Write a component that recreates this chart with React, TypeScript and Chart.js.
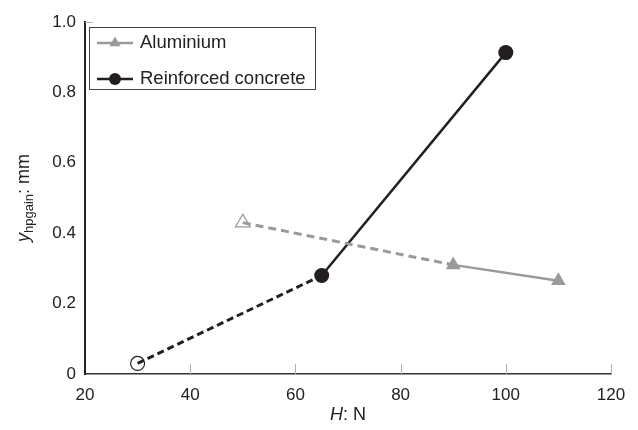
import { useEffect, useRef } from "react";
import { Chart, registerables } from "chart.js";
Chart.register(...registerables);

const alH = [50, 90, 110];
const alY = [0.43, 0.31, 0.265];
const rcH = [30, 65, 100];
const rcY = [0.03, 0.28, 0.913];
const seriesNames = ["Aluminium", "Reinforced concrete"];
const xMin = 20, xMax = 120, xStep = 20;
const yMin = 0, yMax = 1, yStep = 0.2;

const FONT = "'Liberation Sans', Arial, sans-serif";
const GRAY = "#9a9a9c";
const DARK = "#231f20";

const decorations = {
  id: "decorations",
  afterDraw(chart: any) {
    const { ctx, chartArea, scales } = chart;
    ctx.save();
    // inner ticks on x axis
    ctx.strokeStyle = "#b0b0b0";
    ctx.lineWidth = 1;
    scales.x.ticks.forEach((t: any) => {
      const px = Math.round(scales.x.getPixelForValue(t.value)) + 0.5;
      if (t.value === xMin) return;
      ctx.beginPath();
      ctx.moveTo(px, chartArea.bottom);
      ctx.lineTo(px, chartArea.bottom - 10);
      ctx.stroke();
    });
    // top tick of y axis
    const ty = Math.round(scales.y.getPixelForValue(yMax)) + 0.5;
    ctx.beginPath();
    ctx.moveTo(chartArea.left, ty);
    ctx.lineTo(chartArea.left + 8, ty);
    ctx.stroke();

    // legend
    const lx = 89.5, ly = 27.5, lw = 226, lh = 62;
    ctx.strokeStyle = "#444";
    ctx.lineWidth = 1;
    ctx.strokeRect(lx, ly, lw, lh);
    const rows = [
      { y: 43, color: GRAY, shape: "tri" },
      { y: 79, color: DARK, shape: "circ" },
    ];
    rows.forEach((r, i) => {
      ctx.strokeStyle = r.color;
      ctx.lineWidth = 2.5;
      ctx.beginPath();
      ctx.moveTo(97, r.y);
      ctx.lineTo(133, r.y);
      ctx.stroke();
      ctx.fillStyle = r.color;
      ctx.beginPath();
      if (r.shape === "tri") {
        const rr = 6.5;
        ctx.moveTo(115, r.y - rr);
        ctx.lineTo(115 + rr * 0.866, r.y + rr * 0.5);
        ctx.lineTo(115 - rr * 0.866, r.y + rr * 0.5);
        ctx.closePath();
      } else {
        ctx.arc(115, r.y, 6, 0, Math.PI * 2);
      }
      ctx.fill();
      ctx.fillStyle = "#222";
      ctx.font = `18.5px ${FONT}`;
      ctx.textBaseline = "middle";
      ctx.textAlign = "left";
      ctx.fillText(seriesNames[i], 140, r.y);
    });

    // x title
    ctx.fillStyle = "#222";
    ctx.textBaseline = "middle";
    ctx.textAlign = "left";
    const xc = (chartArea.left + chartArea.right) / 2;
    ctx.font = `italic 18px ${FONT}`;
    const wH = ctx.measureText("H").width;
    ctx.font = `18px ${FONT}`;
    const wN = ctx.measureText(": N").width;
    let sx = xc - (wH + wN) / 2;
    ctx.font = `italic 18px ${FONT}`;
    ctx.fillText("H", sx, 415);
    ctx.font = `18px ${FONT}`;
    ctx.fillText(": N", sx + wH, 415);

    // y title
    const yc = (chartArea.top + chartArea.bottom) / 2;
    ctx.translate(24, yc);
    ctx.rotate(-Math.PI / 2);
    ctx.textBaseline = "alphabetic";
    ctx.font = `italic 18px ${FONT}`;
    const wy = ctx.measureText("y").width;
    ctx.font = `13px ${FONT}`;
    const ws = ctx.measureText("hpgain").width;
    ctx.font = `18px ${FONT}`;
    const wm = ctx.measureText(": mm").width;
    const total = wy + ws + wm;
    let p = -total / 2;
    ctx.font = `italic 18px ${FONT}`;
    ctx.fillText("y", p, 5);
    p += wy;
    ctx.font = `13px ${FONT}`;
    ctx.fillText("hpgain", p, 9);
    p += ws;
    ctx.font = `18px ${FONT}`;
    ctx.fillText(": mm", p, 5);
    ctx.restore();
  },
};

export default function App() {
  const ref = useRef<HTMLCanvasElement>(null);
  useEffect(() => {
    if (!ref.current) return;
    const chart = new Chart(ref.current, {
      type: "line",
      data: {
        datasets: [
          {
            label: seriesNames[0],
            data: alH.map((h, i) => ({ x: h, y: alY[i] })),
            borderColor: GRAY,
            borderWidth: 2.5,
            segment: {
              borderDash: (c: any) => (c.p0DataIndex === 0 ? [8, 5] : []),
              borderWidth: (c: any) => (c.p0DataIndex === 0 ? 3 : 2.5),
            },
            pointStyle: "triangle",
            pointRadius: 8.5,
            pointBackgroundColor: ["rgba(0,0,0,0)", GRAY, GRAY],
            pointBorderColor: [GRAY, GRAY, GRAY],
            pointBorderWidth: [1.2, 0, 0],
            fill: false,
            tension: 0,
          },
          {
            label: seriesNames[1],
            data: rcH.map((h, i) => ({ x: h, y: rcY[i] })),
            borderColor: DARK,
            borderWidth: 2.5,
            segment: {
              borderDash: (c: any) => (c.p0DataIndex === 0 ? [7, 4] : []),
              borderWidth: (c: any) => (c.p0DataIndex === 0 ? 3 : 2.5),
            },
            pointStyle: "circle",
            pointRadius: [7, 7.5, 7.5],
            pointBackgroundColor: ["rgba(0,0,0,0)", DARK, DARK],
            pointBorderColor: [DARK, DARK, DARK],
            pointBorderWidth: [1.2, 0, 0],
            fill: false,
            tension: 0,
          },
        ],
      },
      options: {
        animation: false,
        responsive: false,
        maintainAspectRatio: false,
        layout: { padding: { left: 0, right: 27, top: 22, bottom: 0 } },
        plugins: {
          legend: { display: false },
          tooltip: { enabled: false },
        },
        scales: {
          x: {
            type: "linear",
            min: xMin,
            max: xMax,
            ticks: {
              stepSize: xStep,
              font: { size: 17, family: FONT },
              color: "#222",
              padding: 11,
              maxRotation: 0,
            },
            grid: { display: false, drawTicks: false },
            border: { display: true, color: "#333", width: 1.5 },
            afterFit: (s: any) => {
              s.height = 56;
            },
          },
          y: {
            min: yMin,
            max: yMax,
            ticks: {
              stepSize: yStep,
              font: { size: 17, family: FONT },
              color: "#222",
              padding: 9,
              callback: (v: any) => (v === 0 ? "0" : Number(v).toFixed(1)),
            },
            grid: { display: false, drawTicks: false },
            border: { display: true, color: "#222", width: 2 },
            afterFit: (s: any) => {
              s.width = 85;
            },
          },
        },
      } as any,
      plugins: [decorations],
    });
    return () => chart.destroy();
  }, []);
  return (
    <div style={{ position: "absolute", left: 0, top: 0, width: 638, height: 430, background: "#fff" }}>
      <canvas ref={ref} width={638} height={430} style={{ width: 638, height: 430 }} />
    </div>
  );
}
